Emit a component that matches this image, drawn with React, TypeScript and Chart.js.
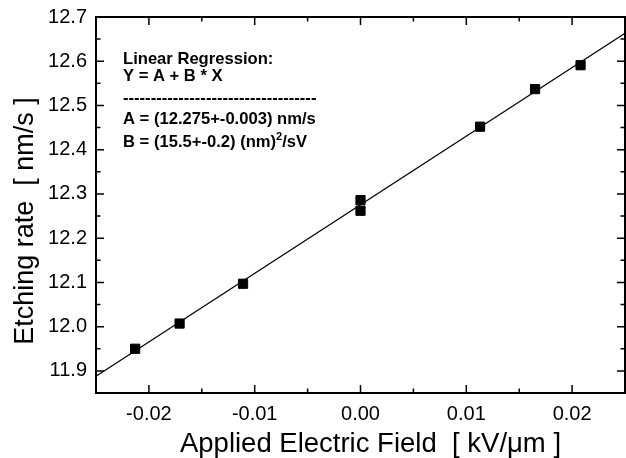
import React, { useEffect, useRef } from "react";
import { Chart, registerables } from "chart.js";

Chart.register(...registerables);

// Measured points (Applied Electric Field [kV/µm], Etching rate [nm/s])
const fieldValues = [-0.0213, -0.0171, -0.0111, 0.0, 0.0, 0.0113, 0.0165, 0.0208];
const rateValues = [11.95, 12.007, 12.097, 12.286, 12.262, 12.452, 12.537, 12.591];

// Regression line end points
const fitX = [-0.025, 0.025];
const fitY = [11.888, 12.663];

// Axis ticks
const xTicks = [-0.02, -0.01, 0.0, 0.01, 0.02];
const yTicks = [11.9, 12.0, 12.1, 12.2, 12.3, 12.4, 12.5, 12.6, 12.7];

const xTitle = "Applied Electric Field  [ kV/\u03bcm ]";
const yTitle = "Etching rate  [ nm/s ]";
const annotationLines = [
  "Linear Regression:",
  "Y = A + B * X",
  "A = (12.275+-0.003) nm/s",
];

const FONT = "'Liberation Sans', Arial, Helvetica, sans-serif";

const framePlugin = {
  id: "originFrame",
  afterDraw(chart: any) {
    const { ctx, chartArea } = chart;
    const { left, right, top, bottom } = chartArea;
    const xs = chart.scales.x;
    const ys = chart.scales.y;
    ctx.save();
    ctx.strokeStyle = "#000";
    ctx.lineWidth = 2;
    ctx.strokeRect(left, top, right - left, bottom - top);

    ctx.lineWidth = 1.5;
    const major = 8;
    const minor = 4.5;
    ctx.beginPath();
    const xStep = xTicks[1] - xTicks[0];
    xTicks.forEach((v) => {
      const px = xs.getPixelForValue(v);
      ctx.moveTo(px, bottom);
      ctx.lineTo(px, bottom - major);
      ctx.moveTo(px, top);
      ctx.lineTo(px, top + major);
    });
    [xTicks[0] - xStep / 2, ...xTicks.map((v) => v + xStep / 2)].forEach((v) => {
      if (v <= xs.min + 1e-9 || v >= xs.max - 1e-9) return;
      const px = xs.getPixelForValue(v);
      ctx.moveTo(px, bottom);
      ctx.lineTo(px, bottom - minor);
      ctx.moveTo(px, top);
      ctx.lineTo(px, top + minor);
    });
    const yStep = yTicks[1] - yTicks[0];
    yTicks.forEach((v) => {
      const py = ys.getPixelForValue(v);
      ctx.moveTo(left, py);
      ctx.lineTo(left + major, py);
      ctx.moveTo(right, py);
      ctx.lineTo(right - major, py);
    });
    [yTicks[0] - yStep / 2, ...yTicks.map((v) => v + yStep / 2)].forEach((v) => {
      if (v <= ys.min + 1e-9 || v >= ys.max - 1e-9) return;
      const py = ys.getPixelForValue(v);
      ctx.moveTo(left, py);
      ctx.lineTo(left + minor, py);
      ctx.moveTo(right, py);
      ctx.lineTo(right - minor, py);
    });
    ctx.stroke();

    // annotation
    ctx.fillStyle = "#000";
    ctx.textAlign = "left";
    ctx.textBaseline = "alphabetic";
    const aFont = `bold 16.6px ${FONT}`;
    ctx.font = aFont;
    const ax = left + 27;
    ctx.fillText(annotationLines[0], ax, top + 47);
    ctx.fillText(annotationLines[1], ax, top + 64);
    ctx.fillText("-----------------------------------", ax, top + 86);
    ctx.fillText(annotationLines[2], ax, top + 107);
    let bx = ax;
    const bBase = top + 130;
    const b1 = "B = (15.5+-0.2) (nm)";
    ctx.fillText(b1, bx, bBase);
    bx += ctx.measureText(b1).width;
    ctx.font = `bold 11px ${FONT}`;
    ctx.fillText("2", bx, bBase - 7);
    bx += ctx.measureText("2").width;
    ctx.font = aFont;
    ctx.fillText("/sV", bx, bBase);

    // axis titles
    ctx.font = `27.5px ${FONT}`;
    ctx.textAlign = "center";
    ctx.textBaseline = "middle";
    ctx.fillText(xTitle, (left + right) / 2 + 10, 444);
    ctx.font = `27px ${FONT}`;
    ctx.save();
    ctx.translate(26, (top + bottom) / 2 + 16);
    ctx.rotate(-Math.PI / 2);
    ctx.fillText(yTitle, 0, 0);
    ctx.restore();
    ctx.restore();
  },
};

export default function App() {
  const ref = useRef<HTMLCanvasElement | null>(null);
  useEffect(() => {
    if (!ref.current) return;
    const chart = new Chart(ref.current, {
      type: "scatter",
      data: {
        datasets: [
          {
            type: "line",
            label: "fit",
            data: fitX.map((x, i) => ({ x, y: fitY[i] })),
            borderColor: "#000",
            borderWidth: 1.2,
            pointRadius: 0,
            fill: false,
            order: 2,
          } as any,
          {
            label: "data",
            data: fieldValues.map((x, i) => ({ x, y: rateValues[i] })),
            pointStyle: "rect",
            pointRadius: 6.5,
            backgroundColor: "#000",
            borderColor: "#000",
            borderWidth: 1,
            order: 1,
          },
        ],
      },
      options: {
        responsive: false,
        animation: false,
        devicePixelRatio: 1,
        layout: { autoPadding: false, padding: { top: 17, right: 1, left: 0, bottom: 0 } },
        plugins: {
          legend: { display: false },
          tooltip: { enabled: false },
        },
        scales: {
          x: {
            type: "linear",
            min: -0.025,
            max: 0.025,
            afterBuildTicks: (s: any) => {
              s.ticks = xTicks.map((v) => ({ value: v }));
            },
            afterFit: (s: any) => {
              s.height = 65;
              s.paddingLeft = 0;
              s.paddingRight = 0;
            },
            grid: { display: false, drawTicks: false },
            border: { display: false },
            ticks: {
              color: "#000",
              padding: 9,
              font: { family: FONT, size: 20 },
              callback: (v: any) => Number(v).toFixed(2),
            },
          },
          y: {
            type: "linear",
            min: 11.85,
            max: 12.7,
            afterBuildTicks: (s: any) => {
              s.ticks = yTicks.map((v) => ({ value: v }));
            },
            afterFit: (s: any) => {
              s.width = 96;
              s.paddingTop = 0;
              s.paddingBottom = 0;
            },
            grid: { display: false, drawTicks: false },
            border: { display: false },
            ticks: {
              color: "#000",
              padding: 9,
              font: { family: FONT, size: 20 },
              callback: (v: any) => Number(v).toFixed(1),
            },
          },
        },
      },
      plugins: [framePlugin],
    });
    return () => chart.destroy();
  }, []);
  return (
    <div style={{ position: "fixed", left: 0, top: 0, width: 626, height: 458, background: "#fff" }}>
      <canvas ref={ref} width={626} height={458} />
    </div>
  );
}
